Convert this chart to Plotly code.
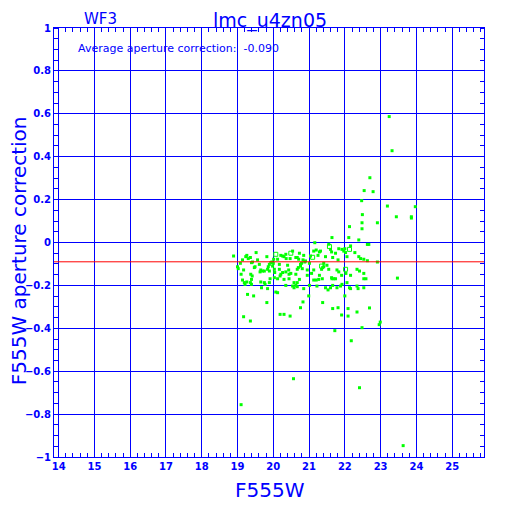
import plotly.graph_objects as go

# ---- data ----
x_mag = [
    18.89, 19.08, 19.14, 19.23, 19.26, 19.30, 19.36, 19.39, 19.42, 19.52,
    19.56, 19.61, 19.75, 19.82, 19.84, 19.86, 19.89, 19.93, 19.96, 20.00,
    19.98, 20.01, 20.12, 20.17, 20.21, 20.26, 20.30, 20.35, 20.36, 20.40,
    20.43, 20.54, 20.63, 20.47, 19.00, 19.02, 19.17, 19.37, 19.41, 19.47,
    19.49, 19.63, 19.65, 19.70, 19.89, 20.03, 20.04, 20.17, 20.21, 20.26,
    20.35, 20.44, 20.49, 20.63, 19.10, 19.14, 19.19, 19.21, 19.26, 19.36,
    19.39, 19.39, 19.65, 19.75, 19.77, 19.89, 19.91, 20.03, 20.12, 20.19,
    20.30, 20.44, 20.58, 20.63, 20.35, 20.54, 20.58, 19.28, 19.45, 19.67,
    19.84, 20.07, 20.12, 19.82, 19.17, 19.36, 20.19, 20.30, 20.47,
    20.67, 20.71, 20.73, 20.76, 20.79, 20.83, 20.85, 20.88, 20.90, 21.04,
    21.13, 21.16, 21.20, 21.25, 21.29, 21.32, 21.38, 21.41, 21.46, 21.55,
    21.60, 21.63, 21.64, 21.66, 21.74, 21.81, 21.83, 21.92, 21.97, 22.00,
    22.02, 22.06, 22.11, 22.16, 22.28, 22.39, 22.39, 22.44, 22.53,
    20.67, 20.70, 20.76, 20.81, 20.95, 20.95, 21.01, 21.07, 21.13, 21.13,
    21.20, 21.27, 21.29, 21.35, 21.37, 21.41, 21.50, 21.55, 21.63, 21.64,
    21.69, 21.74, 21.78, 21.83, 21.91, 22.03, 22.16, 22.34, 22.41, 22.53,
    22.53, 20.67, 20.73, 20.67, 20.85, 21.01, 20.99, 21.22, 21.46, 21.53,
    21.60, 21.66, 21.78, 21.88, 21.92, 22.06, 22.13, 22.16, 22.37, 22.53,
    22.00, 22.34, 20.83, 20.76, 21.38, 21.66, 21.81, 21.91, 22.09, 22.09,
    22.34,
    22.47, 23.19, 23.97, 22.49, 23.44, 23.86, 23.86, 22.91, 22.48, 22.48,
    22.63, 22.67, 22.63, 22.91, 22.59, 23.47, 22.69, 22.99, 22.96, 22.48,
    23.24, 23.32, 22.70, 22.54, 22.79, 22.13,
    19.10, 20.565, 22.41, 21.72, 22.18, 23.63,
]
ap_corr = [
    -0.063, -0.097, -0.081, -0.066, -0.060, -0.075, -0.070, -0.094, -0.091, -0.047,
    -0.081, -0.102, -0.133, -0.066, -0.125, -0.113, -0.102, -0.094, -0.091, -0.097,
    -0.110, -0.078, -0.078, -0.102, -0.060, -0.063, -0.066, -0.055, -0.075, -0.106,
    -0.128, -0.040, -0.070, -0.075, -0.113, -0.122, -0.128, -0.148, -0.156, -0.117,
    -0.113, -0.137, -0.128, -0.133, -0.133, -0.125, -0.140, -0.125, -0.148, -0.140,
    -0.137, -0.148, -0.144, -0.148, -0.148, -0.175, -0.187, -0.195, -0.184, -0.187,
    -0.172, -0.195, -0.184, -0.187, -0.195, -0.187, -0.169, -0.164, -0.169, -0.156,
    -0.172, -0.169, -0.187, -0.200, -0.200, -0.203, -0.211, -0.242, -0.249, -0.211,
    -0.215, -0.231, -0.234, -0.280, -0.346, -0.366, -0.335, -0.335, -0.343,
    -0.070, -0.078, -0.050, -0.102, -0.097, -0.081, -0.060, -0.091, -0.086, -0.063,
    -0.040, -0.001, -0.035, -0.060, -0.044, -0.040, -0.117, -0.097, -0.066, -0.008,
    -0.032, -0.044, 0.023, -0.070, -0.050, -0.081, -0.029, -0.032, -0.040, -0.029,
    -0.047, -0.066, 0.023, -0.016, -0.047, 0.012, -0.066, -0.075, -0.078,
    -0.125, -0.117, -0.110, -0.122, -0.128, -0.153, -0.097, -0.144, -0.128, -0.175,
    -0.175, -0.172, -0.153, -0.125, -0.169, -0.113, -0.106, -0.125, -0.164, -0.169,
    -0.169, -0.169, -0.128, -0.137, -0.153, -0.144, -0.153, -0.125, -0.133, -0.144,
    -0.169, -0.187, -0.172, -0.206, -0.215, -0.200, -0.249, -0.203, -0.211, -0.221,
    -0.211, -0.200, -0.211, -0.203, -0.195, -0.187, -0.211, -0.215, -0.215, -0.211,
    -0.249, -0.203, -0.277, -0.304, -0.280, -0.308, -0.304, -0.338, -0.308, -0.343,
    -0.324,
    0.195, 0.170, 0.167, 0.130, 0.120, 0.120, 0.114, 0.092, 0.092, 0.064,
    -0.009, -0.009, -0.085, -0.091, -0.169, -0.166, -0.305, -0.371, -0.383, -0.397,
    0.587, 0.428, 0.302, 0.242, 0.237, 0.074,
    -0.756, -0.635, -0.677, -0.411, -0.458, -0.947,
]
# open-square (flagged) points
x_open = [20.07, 20.49, 21.10, 21.35, 21.57, 22.13, 22.02]
y_open = [-0.055, -0.050, -0.069, -0.110, -0.019, -0.032, -0.125]

avg_corr = -0.090
chip = "WF3"
field = "lmc_u4zn05"
x_ticks = list(range(14, 26))
y_ticks = [-1, -0.8, -0.6, -0.4, -0.2, 0, 0.2, 0.4, 0.6, 0.8, 1]
y_tick_text = ["\u22121", "\u22120.8", "\u22120.6", "\u22120.4", "\u22120.2", "0",
               "0.2", "0.4", "0.6", "0.8", "1"]

BLUE = "#0000ff"
GREEN = "#00ff00"
FONT = "DejaVu Sans"

fig = go.Figure()
fig.add_trace(go.Scatter(
    x=x_mag, y=ap_corr, mode="markers",
    marker=dict(symbol="square", size=3, color=GREEN, line=dict(width=0)),
    showlegend=False, hoverinfo="skip"))
fig.add_trace(go.Scatter(
    x=x_open, y=y_open, mode="markers",
    marker=dict(symbol="square-open", size=4, color=GREEN, line=dict(width=1, color=GREEN)),
    showlegend=False, hoverinfo="skip"))

fig.add_hline(y=avg_corr, line=dict(color="#ff0000", width=1), layer="above")

axis_common = dict(
    showline=True, linecolor=BLUE, linewidth=1, mirror="allticks",
    showgrid=True, gridcolor=BLUE, gridwidth=1,
    zeroline=False, ticks="", color=BLUE,
    tickfont=dict(family=FONT, size=10, color=BLUE, weight="bold"),
)

fig.update_xaxes(
    range=[13.87, 25.89], tickmode="array", tickvals=x_ticks,
    ticktext=[str(v) for v in x_ticks],
    minor=dict(dtick=0.2, tick0=14, ticks="inside", ticklen=4,
               tickcolor=BLUE, tickwidth=1, showgrid=False),
    **axis_common)
fig.update_yaxes(
    range=[-1, 1], tickmode="array", tickvals=y_ticks, ticktext=y_tick_text,
    minor=dict(dtick=0.05, tick0=0, ticks="inside", ticklen=4,
               tickcolor=BLUE, tickwidth=1, showgrid=False),
    **axis_common)

annotations = [
    dict(text=field, x=0.502, y=1.0165, xref="paper", yref="paper",
         xanchor="center", yanchor="middle", showarrow=False, borderpad=0,
         font=dict(family=FONT, size=19, color=BLUE)),
    dict(text=chip, x=0.107, y=1.02, xref="paper", yref="paper",
         xanchor="center", yanchor="middle", showarrow=False, borderpad=0,
         font=dict(family=FONT, size=15, color=BLUE)),
    dict(text=f"Average aperture correction:  {avg_corr:.3f}", x=0.051, y=0.953,
         xref="paper", yref="paper", xanchor="left", yanchor="middle",
         showarrow=False, font=dict(family=FONT, size=11, color=BLUE)),
    dict(text="F555W", x=0.502, y=-0.077, xref="paper", yref="paper",
         xanchor="center", yanchor="middle", showarrow=False,
         font=dict(family=FONT, size=20, color=BLUE)),
    dict(text="F555W aperture correction", x=-0.081, y=0.48, xref="paper",
         yref="paper", xanchor="center", yanchor="middle", textangle=-90,
         showarrow=False, borderpad=0,
         font=dict(family=FONT, size=20, color=BLUE)),
]

# The page body adds an 8 px margin, so the figure is 496 px and the
# margins are reduced by 8 px to land the plot area where the reference has it.
fig.update_layout(
    width=496, height=496,
    margin=dict(l=46, r=20, t=20, b=47, pad=0),
    plot_bgcolor="white", paper_bgcolor="white",
    annotations=annotations,
    showlegend=False,
)

fig.write_html("out.html")
